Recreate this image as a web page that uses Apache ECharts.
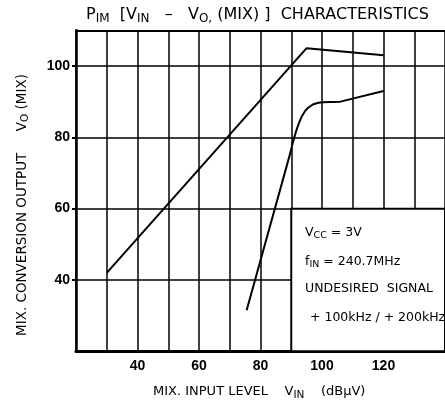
<!DOCTYPE html>
<html>
<head>
<meta charset="utf-8">
<script src="https://cdn.jsdelivr.net/npm/echarts@6/dist/echarts.min.js"></script>
<style>
  html, body { margin: 0; padding: 0; background: #fff; }
  #chart { width: 445px; height: 403px; }
</style>
</head>
<body>
<div id="chart"></div>
<script>
// Mixer input level V_IN (dBµV) against conversion output V_O(MIX) (dBµV)
const wantedVin = [30, 95, 120];
const wantedVo  = [42, 105, 103];

// Intermodulation product output
const imVin = [75.5, 89.5, 90.5, 91.5, 92.5, 93.5, 94.5, 95.5, 97, 98.5, 100, 106, 120];
const imVo  = [31.5, 75, 78.5, 81.5, 84, 86, 87.4, 88.3, 89.2, 89.6, 89.8, 90, 93];

// Labelled ticks
const xTickLabels = [40, 60, 80, 100, 120];
const yTickLabels = [40, 60, 80, 100];

// Condition box, in data units (x from/to, y from/to)
const noteBoxX = [90, 140];
const noteBoxY = [20, 60];

const TICK_FONT = '"Liberation Sans", Arial, sans-serif';
const TEXT_FONT = '"DejaVu Sans", "Noto Sans", sans-serif';
const INK = '#000';

const chart = echarts.init(document.getElementById('chart'), null, { renderer: 'canvas' });

const toPairs = (xs, ys) => xs.map((x, i) => [x, ys[i]]);

const main = size => ({ fontSize: size, fontFamily: TEXT_FONT, fill: INK });
const sub = (size, drop) => ({ fontSize: size, fontFamily: TEXT_FONT, fill: INK, padding: [drop, 0, 0, 0] });

chart.setOption({
  backgroundColor: '#fff',
  animation: false,
  grid: { left: 76, top: 30.3, width: 378, height: 321, containLabel: false },
  xAxis: [{
    type: 'value', min: 20, max: 140, interval: 10,
    axisLine: { show: true, onZero: false, lineStyle: { color: INK, width: 3 } },
    axisTick: { show: false },
    axisLabel: {
      customValues: xTickLabels, margin: 8,
      color: INK, fontFamily: TICK_FONT, fontWeight: 'bold', fontSize: 14
    },
    splitLine: { show: true, lineStyle: { color: INK, width: 1.5 } }
  }, {
    type: 'value', position: 'top', min: 20, max: 140,
    axisLine: { show: true, onZero: false, lineStyle: { color: INK, width: 2 } },
    axisTick: { show: false }, axisLabel: { show: false }, splitLine: { show: false }
  }],
  yAxis: {
    type: 'value', min: 20, max: 110, interval: 10,
    axisLine: { show: true, onZero: false, lineStyle: { color: INK, width: 2.5 } },
    axisTick: { show: true, customValues: yTickLabels, length: 4, lineStyle: { color: INK, width: 2 } },
    axisLabel: {
      customValues: yTickLabels, margin: 6,
      color: INK, fontFamily: TICK_FONT, fontWeight: 'bold', fontSize: 14
    },
    splitLine: { show: true, lineStyle: { color: INK, width: 1.5 } }
  },
  series: [{
    name: 'wanted', type: 'line', xAxisIndex: 0,
    data: toPairs(wantedVin, wantedVo),
    symbol: 'none', lineStyle: { color: INK, width: 2 },
    markArea: {
      silent: true,
      itemStyle: { color: '#fff', borderColor: INK, borderWidth: 2 },
      data: [[{ xAxis: noteBoxX[0], yAxis: noteBoxY[0] }, { xAxis: noteBoxX[1], yAxis: noteBoxY[1] }]]
    }
  }, {
    name: 'im', type: 'line', xAxisIndex: 0,
    data: toPairs(imVin, imVo),
    symbol: 'none',
    lineStyle: { color: INK, width: 2, join: 'round' }
  }],
  graphic: [
    {
      type: 'text', x: 86, y: 15, z: 10,
      style: {
        text: '{b|P}{s|IM}{b|  [V}{s|IN}{b|   –   V}{s|O,}{b| (MIX) ]  CHARACTERISTICS}',
        align: 'left', verticalAlign: 'middle',
        rich: { b: main(16), s: sub(12, 7) }
      }
    },
    {
      type: 'text', x: 153, y: 392, z: 10,
      style: {
        text: '{b|MIX. INPUT LEVEL    V}{s|IN}{b|    (dBµV)}',
        align: 'left', verticalAlign: 'middle',
        rich: { b: main(13), s: sub(10.5, 6) }
      }
    },
    {
      type: 'text', x: 22, y: 336, rotation: Math.PI / 2, z: 10,
      style: {
        text: '{b|MIX. CONVERSION OUTPUT     V}{s|O}{b| (MIX)}',
        align: 'left', verticalAlign: 'middle',
        rich: { b: main(13.5), s: sub(10.5, 6) }
      }
    },
    {
      type: 'text', x: 305, y: 233, z: 10,
      style: { text: '{b|V}{s|CC}{b| = 3V}', verticalAlign: 'middle', rich: { b: main(12.5), s: sub(9.5, 6) } }
    },
    {
      type: 'text', x: 305, y: 262, z: 10,
      style: { text: '{b|f}{s|IN}{b| = 240.7MHz}', verticalAlign: 'middle', rich: { b: main(12.5), s: sub(9.5, 6) } }
    },
    {
      type: 'text', x: 305, y: 289, z: 10,
      style: { text: 'UNDESIRED  SIGNAL', verticalAlign: 'middle', fontSize: 12.5, fontFamily: TEXT_FONT, fill: INK }
    },
    {
      type: 'text', x: 310, y: 318, z: 10,
      style: { text: '+ 100kHz / + 200kHz', verticalAlign: 'middle', fontSize: 12.5, fontFamily: TEXT_FONT, fill: INK }
    }
  ]
});
</script>
</body>
</html>
